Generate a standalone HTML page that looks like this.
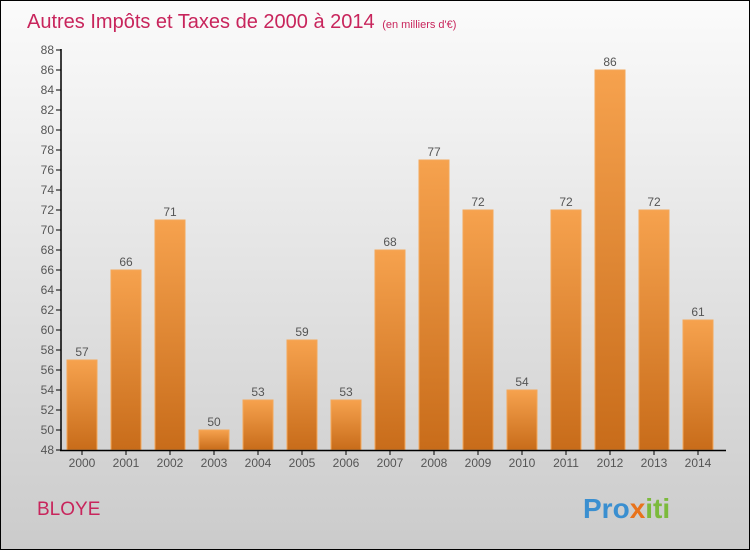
<!DOCTYPE html>
<html><head><meta charset="utf-8"><style>
body{margin:0;}
#c{position:relative;width:748px;height:548px;border:1px solid #000;background:linear-gradient(#fbfbfb,#cbcbcb);font-family:"Liberation Sans",sans-serif;overflow:hidden;}
</style></head><body>
<div id="c">
<svg width="748" height="548" id="s">
<defs><linearGradient id="g" x1="0" y1="0" x2="0" y2="1"><stop offset="0" stop-color="#f6a24e"/><stop offset="1" stop-color="#c86c1a"/></linearGradient></defs>
<text x="26" y="27" font-size="20" fill="#c8255c">Autres Impôts et Taxes de 2000 à 2014 <tspan font-size="11" dx="2">(en milliers d'€)</tspan></text>
<text x="36" y="514" font-size="19" fill="#c8255c">BLOYE</text>
<text x="582" y="517" font-size="28" font-weight="bold" fill="#3a8fd0">Pro<tspan fill="#e8731c">x</tspan><tspan fill="#7cba3c">iti</tspan></text>
<g id="plot"></g>
</svg>
</div>
<script>
const years=["2000","2001","2002","2003","2004","2005","2006","2007","2008","2009","2010","2011","2012","2013","2014"];
const values=[57,66,71,50,53,59,53,68,77,72,54,72,86,72,61];
const yTicks=[48,50,52,54,56,58,60,62,64,66,68,70,72,74,76,78,80,82,84,86,88];
const NS="http://www.w3.org/2000/svg";
const g=document.getElementById('plot');
const y=v=>449-(v-48)*10;
const x=i=>81+i*44;
function mk(t,a){const e=document.createElementNS(NS,t);for(const k in a)e.setAttribute(k,a[k]);g.appendChild(e);return e;}
yTicks.forEach(v=>{
 const l=mk('line',{x1:55,x2:60,y1:y(v),y2:y(v),stroke:'#000'});
 
 
 const t=mk('text',{x:53,y:y(v)+4,'font-size':12,fill:'#555','text-anchor':'end'});t.textContent=v;
 
 
});
values.forEach((v,i)=>{
 const r=mk('rect',{x:x(i)-15,y:y(v),width:30,height:y(48)-y(v),fill:'url(#g)',stroke:'#f4a85a','stroke-width':1});
 
 
 const t=mk('text',{x:x(i),y:y(v)-4,'font-size':12,fill:'#555','text-anchor':'middle'});t.textContent=v;
 
 
 const k=mk('line',{x1:x(i),x2:x(i),y1:449,y2:454,stroke:'#000'});
 
 
 const xl=mk('text',{x:x(i),y:466,'font-size':12,fill:'#555','text-anchor':'middle'});xl.textContent=years[i];
 
 
});
const ya=mk('line',{x1:60,x2:60,y1:48,y2:450,stroke:'#000','stroke-width':1.5});


const xa=mk('line',{x1:59,x2:725,y1:449.5,y2:449.5,stroke:'#000','stroke-width':1.5});


</script>
</body></html>
